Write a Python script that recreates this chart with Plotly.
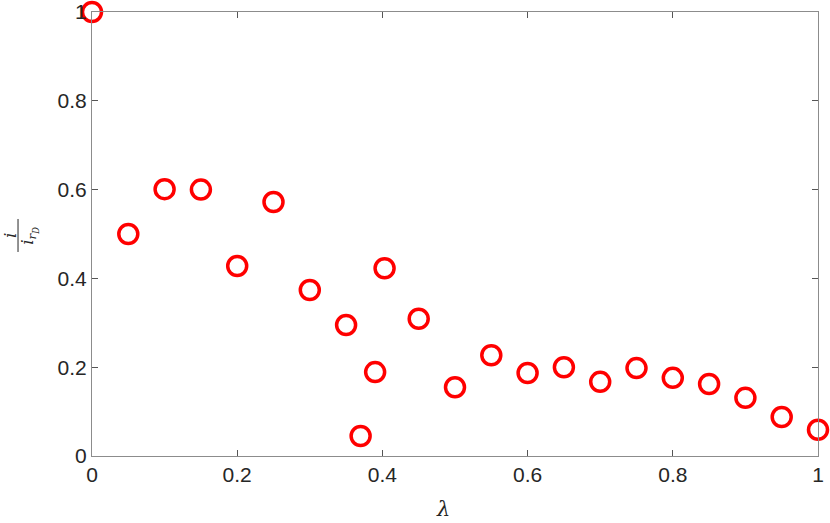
import plotly.graph_objects as go

lam = [0.0, 0.05, 0.1, 0.15, 0.2, 0.25, 0.3, 0.35, 0.37, 0.39, 0.403, 0.45,
       0.5, 0.55, 0.6, 0.65, 0.7, 0.75, 0.8, 0.85, 0.9, 0.95, 1.0]
ratio = [1.0, 0.5, 0.601, 0.6, 0.428, 0.572, 0.374, 0.295, 0.045, 0.189, 0.423, 0.309,
         0.155, 0.227, 0.187, 0.2, 0.167, 0.198, 0.176, 0.162, 0.131, 0.088, 0.059]
x_ticks = [0, 0.2, 0.4, 0.6, 0.8, 1]
x_tick_text = ["0", "0.2", "0.4", "0.6", "0.8", "1"]
y_ticks = [0, 0.2, 0.4, 0.6, 0.8, 1]
y_tick_text = ["0", "0.2", "0.4", "0.6", "0.8", "1"]

fig = go.Figure()
fig.add_trace(go.Scatter(
    x=lam, y=ratio, mode="markers",
    marker=dict(symbol="circle-open", size=19, color="#ff0000",
                line=dict(width=3.5, color="#ff0000")),
    cliponaxis=False, showlegend=False, hoverinfo="skip",
))

axis_common = dict(
    showgrid=False, zeroline=False, showline=True, linecolor="#8c8c8c",
    linewidth=1, mirror="ticks", ticks="inside", ticklen=6, tickcolor="#555555",
    automargin=False,
    tickfont=dict(family="Liberation Sans, Arial, sans-serif", size=21, color="#262626"),
)
fig.update_xaxes(range=[0, 1], tickvals=x_ticks, ticktext=x_tick_text, **axis_common)
fig.update_yaxes(range=[0, 1], tickvals=y_ticks, ticktext=y_tick_text, **axis_common)

label_font = dict(family="DejaVu Serif, serif", size=17, color="#262626")
fig.add_annotation(text="<i>λ</i>", xref="paper", yref="paper", x=0.4835, y=-0.12,
                   xanchor="center", yanchor="middle", showarrow=False,
                   font=dict(family="DejaVu Serif, serif", size=21, color="#262626"))
# y-axis label: fraction i / i_{r_D}, rotated
fig.add_annotation(text="<i>i</i>", xref="paper", yref="paper", x=-0.1129, y=0.4955,
                   textangle=-90, xanchor="center", yanchor="middle", showarrow=False,
                   font=label_font)
fig.add_shape(type="line", xref="paper", yref="paper", x0=-0.1019, x1=-0.1019,
              y0=0.4595, y1=0.5338, line=dict(color="#262626", width=1))
fig.add_annotation(text="<i>i<sub>r<sub>D</sub></sub></i>", xref="paper", yref="paper",
                   x=-0.087, y=0.4955, textangle=-90, xanchor="center", yanchor="middle",
                   showarrow=False, font=label_font)

fig.update_layout(
    width=830, height=523,
    margin=dict(l=92, r=12, t=12, b=67),
    plot_bgcolor="white", paper_bgcolor="white",
)
fig.write_html("out.html", config={"displayModeBar": False},
               post_script="document.body.style.margin='0';document.body.style.padding='0';document.body.style.overflow='hidden';")
